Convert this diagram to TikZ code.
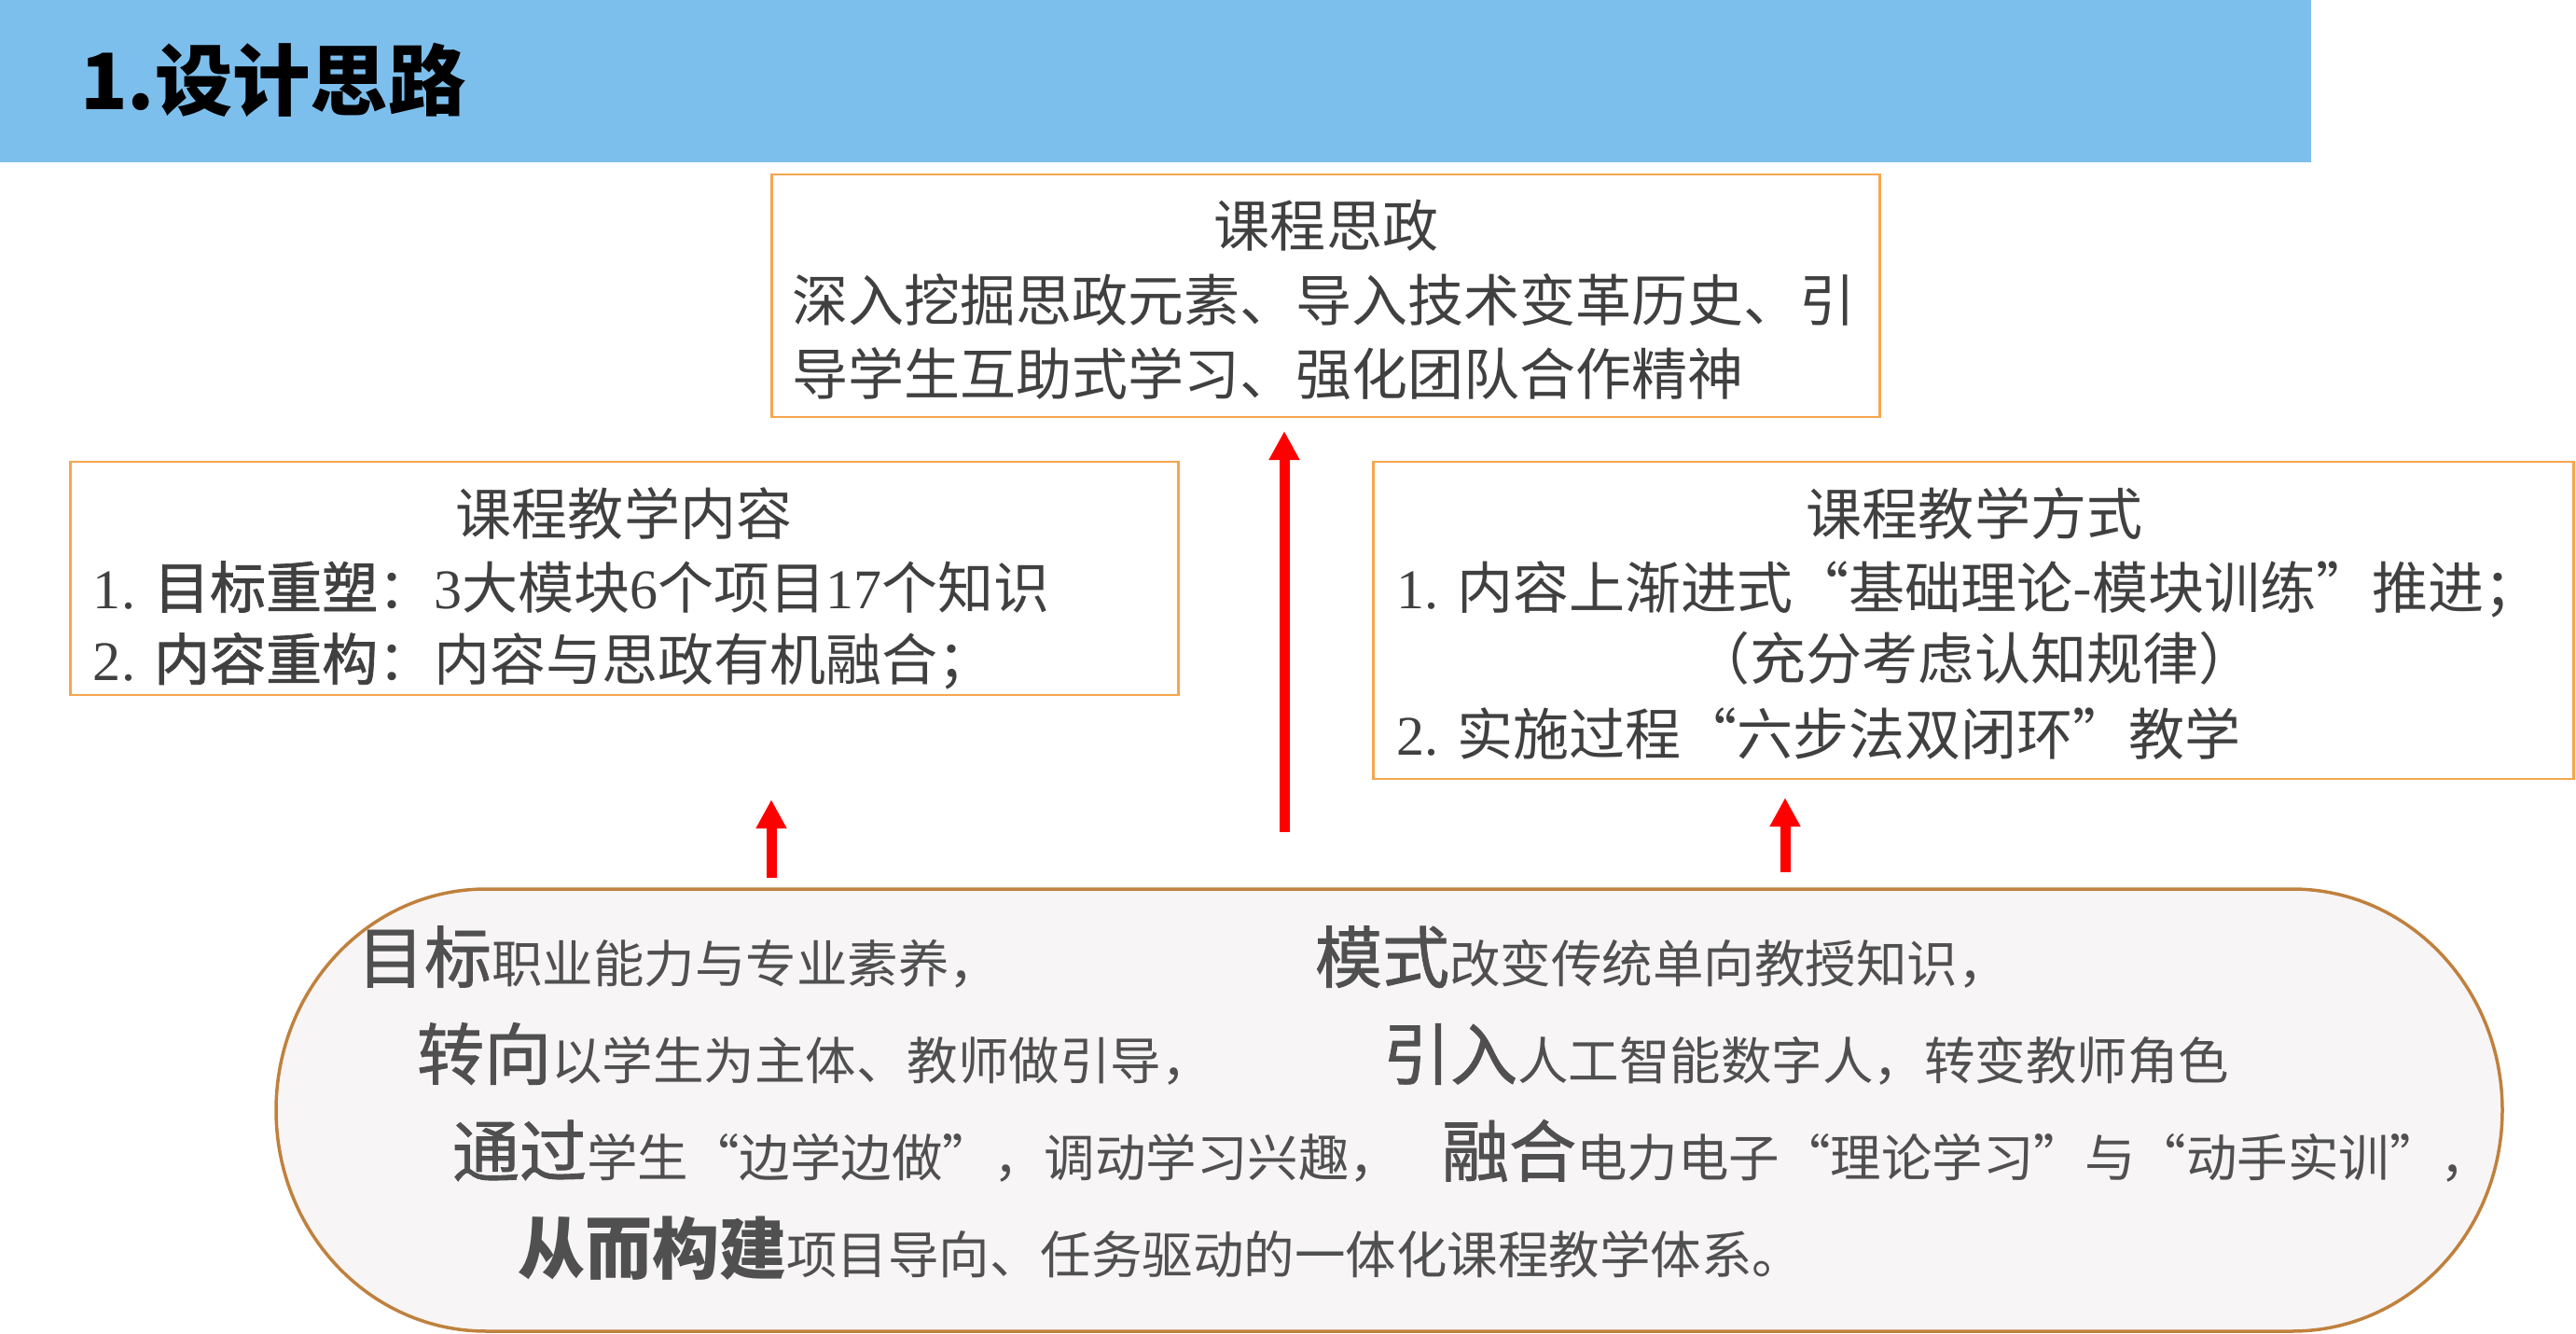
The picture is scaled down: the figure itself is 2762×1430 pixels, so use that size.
\documentclass[tikz,border=0pt]{standalone}
\usepackage{fontspec}
\setmainfont{Noto Sans CJK SC}
\newfontfamily\numfont{Liberation Serif}
\newfontfamily\medfont[FakeBold=1.2]{Noto Sans CJK SC}
\usetikzlibrary{arrows.meta}
\definecolor{banner}{HTML}{7DBFEC}
\definecolor{boxorange}{HTML}{F6A64E}
\definecolor{pillstroke}{HTML}{C0813E}
\definecolor{pillfill}{HTML}{F7F5F6}
\definecolor{boxtext}{HTML}{404040}
\definecolor{pilltext}{HTML}{505050}
\newcommand{\bw}[1]{{\medfont\fontsize{20.49}{24}\selectfont #1}}
\newcommand{\bwb}[1]{{\bfseries\fontsize{20.49}{24}\selectfont #1}}
\begin{document}
\begin{tikzpicture}[x=0.01cm,y=-0.01cm,
  every node/.style={inner sep=0pt,outer sep=0pt},
  framebox/.style={draw=boxorange,line width=0.025cm,fill=white},
  boxtitle/.style={font=\fontsize{17.07}{20}\selectfont,text=boxtext,anchor=base},
  boxline/.style={font=\fontsize{17.07}{20}\selectfont,text=boxtext,anchor=base west},
  pillline/.style={font=\fontsize{15.5}{18}\selectfont,text=pilltext,anchor=base west},
  uparrow/.style={draw=red,line width=0.11cm,-{Triangle[width=0.31cm,length=0.31cm]}}]
\useasboundingbox (0,0) rectangle (2762,1430);
% banner
\fill[banner] (0,0) rectangle (2478,174);
\node[anchor=base west,font=\bfseries\fontsize{23.7}{28}\selectfont] (title) at (86,117) {1.设计思路};
% boxes
\node[framebox,minimum width=11.87cm,minimum height=2.60cm] (topbox) at (1421.5,317) {};
\node[framebox,minimum width=11.87cm,minimum height=2.50cm] (leftbox) at (669.5,620) {};
\node[framebox,minimum width=12.86cm,minimum height=3.40cm] (rightbox) at (2116,665) {};
% top box text
\node[boxtitle] (t0) at (1422,264) {课程思政};
\node[boxline] (t1) at (849,344) {深入挖掘思政元素、导入技术变革历史、引};
\node[boxline] (t2) at (849,423) {导学生互助式学习、强化团队合作精神};
% left box text
\node[boxtitle] (lt) at (669,573) {课程教学内容};
\node[boxline] (l1) at (100,652) {{\numfont 1. }{\medfont 目标重塑}：{\numfont 3}大模块{\numfont 6}个项目{\numfont 17}个知识};
\node[boxline] (l2) at (100,729) {{\numfont 2. }{\medfont 内容重构}：内容与思政有机融合；};
% right box text
\node[boxtitle] (rt) at (2117,573) {课程教学方式};
\node[boxline] (r1) at (1497,652) {{\numfont 1. }内容上渐进式“基础理论-模块训练”推进；};
\node[boxtitle] (r2) at (2117,728) {（充分考虑认知规律）};
\node[boxline] (r3) at (1497,809) {{\numfont 2. }实施过程“六步法双闭环”教学};
% pill
\draw[pillstroke,fill=pillfill,line width=0.035cm]
  (521,953) -- (2458,953)
  .. controls (2582.3,953) and (2683,1059.1) .. (2683,1190)
  .. controls (2683,1320.9) and (2582.3,1427) .. (2458,1427)
  -- (521,1427)
  .. controls (396.7,1427) and (296,1320.9) .. (296,1190)
  .. controls (296,1059.1) and (396.7,953) .. (521,953) -- cycle;
\node[pillline] (p1a) at (383,1053) {\bw{目标}职业能力与专业素养，};
\node[pillline] (p1b) at (1410,1053) {\bw{模式}改变传统单向教授知识，};
\node[pillline] (p2a) at (447,1157) {\bw{转向}以学生为主体、教师做引导，};
\node[pillline] (p2b) at (1483,1157) {\bw{引入}人工智能数字人，转变教师角色};
\node[pillline] (p3a) at (485,1261) {\bw{通过}学生“边学边做”，调动学习兴趣，};
\node[pillline] (p3b) at (1546,1261) {\bw{融合}电力电子“理论学习”与“动手实训”，};
\node[pillline] (p4) at (555,1365) {\bwb{从而构建}项目导向、任务驱动的一体化课程教学体系。};
% arrows
\coordinate (a1s) at (1377,892);
\coordinate (a2s) at (827,941);
\coordinate (a3s) at (1914,935);
\draw[uparrow,shorten >=0.15cm] (a1s) -- (topbox.south -| a1s);
\draw[uparrow,shorten >=1.12cm] (a2s) -- (leftbox.south -| a2s);
\draw[uparrow,shorten >=0.20cm] (a3s) -- (rightbox.south -| a3s);
\end{tikzpicture}
\end{document}
